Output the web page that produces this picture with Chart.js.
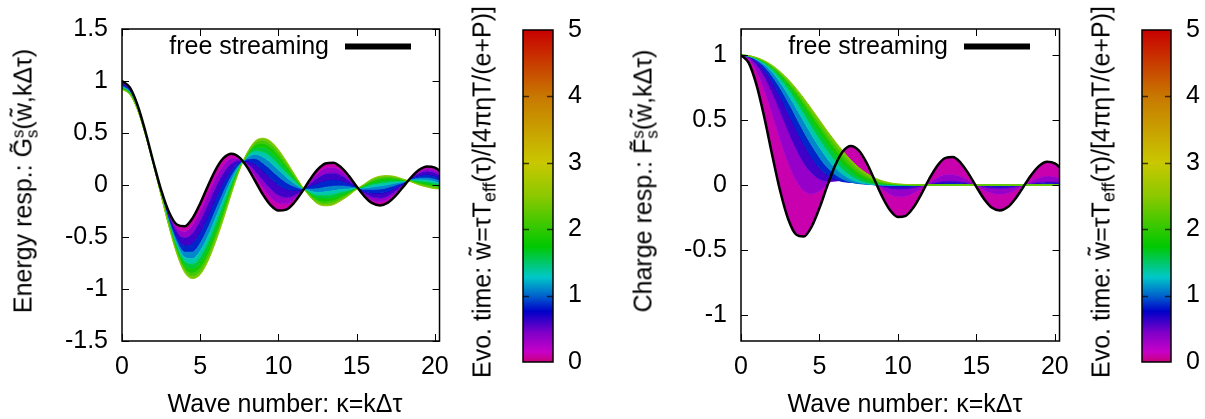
<!DOCTYPE html>
<html>
<head>
<meta charset="utf-8">
<script src="https://cdn.jsdelivr.net/npm/chart.js@4.4.1/dist/chart.umd.min.js"></script>
<style>
  html, body { margin: 0; padding: 0; background: #fff; }
  #wrap { position: relative; width: 1205px; height: 419px; overflow: hidden;
          font-family: "Liberation Sans", Arial, sans-serif; font-size: 25px; color: #000; }
  canvas { position: absolute; top: 0; }
  .lab { position: absolute; white-space: nowrap; line-height: 25px; }
  .rot { transform: translate(-50%, -50%) rotate(-90deg); }
  .hor { transform: translateX(-50%); }
  .ss { display: inline-block; font-size: 17px; line-height: 14px; vertical-align: -6px; }
  .sub { font-size: 18px; vertical-align: -5px; }
</style>
</head>
<body>
<div id="wrap">
  <canvas id="energyChart" width="460" height="419" style="left:0"></canvas>
  <canvas id="energyBar" width="160" height="419" style="left:460px"></canvas>
  <canvas id="chargeChart" width="460" height="419" style="left:620px"></canvas>
  <canvas id="chargeBar" width="125" height="419" style="left:1080px"></canvas>

  <div class="lab rot" style="left:24.5px; top:181px">Energy resp.: G&#x303;<span class="ss">s<br>s</span>(w&#x303;,kΔτ)</div>
  <div class="lab hor" style="left:285px; top:391px">Wave number: κ=kΔτ</div>
  <div class="lab rot" style="left:486px; top:192px">Evo. time: w&#x303;=τT<span class="sub">eff</span>(τ)/[4πηT/(e+P)]</div>

  <div class="lab rot" style="left:644.5px; top:181px">Charge resp.: F&#x303;<span class="ss">s<br>s</span>(w&#x303;,kΔτ)</div>
  <div class="lab hor" style="left:905px; top:391px">Wave number: κ=kΔτ</div>
  <div class="lab rot" style="left:1105px; top:192px">Evo. time: w&#x303;=τT<span class="sub">eff</span>(τ)/[4πηT/(e+P)]</div>
</div>

<script>
// wave number grid
const kappa = [0, 0.5, 1, 1.5, 2, 2.5, 3, 3.5, 4, 4.5, 5, 5.5, 6, 6.5, 7, 7.5, 8, 8.5, 9, 9.5,
  10, 10.5, 11, 11.5, 12, 12.5, 13, 13.5, 14, 14.5, 15, 15.5, 16, 16.5, 17, 17.5, 18, 18.5, 19, 19.5, 20, 20.5];

// free streaming (black curve, same in both panels)
const freeStreaming = [1.000, 0.938, 0.765, 0.512, 0.224, -0.048, -0.260, -0.380, -0.397, -0.321, -0.178, -0.007,
  0.151, 0.260, 0.300, 0.266, 0.172, 0.042, -0.090, -0.194, -0.246, -0.237, -0.171, -0.068, 0.048, 0.147, 0.207,
  0.215, 0.171, 0.088, -0.014, -0.109, -0.175, -0.196, -0.170, -0.103, -0.013, 0.077, 0.147, 0.179, 0.167, 0.115];

// evolution times of the coloured curves
const evoTimes = [0.25, 0.5, 0.75, 1.0, 1.25, 1.5, 1.75, 2.0, 2.25, 2.5];

// energy response
const energyW025 = [0.990, 0.930, 0.760, 0.508, 0.221, -0.054, -0.277, -0.414, -0.450, -0.390, -0.260, -0.094,
  0.068, 0.190, 0.254, 0.251, 0.189, 0.087, -0.025, -0.120, -0.176, -0.181, -0.137, -0.061, 0.029, 0.108, 0.158,
  0.166, 0.132, 0.065, -0.017, -0.095, -0.147, -0.162, -0.139, -0.081, -0.005, 0.071, 0.129, 0.155, 0.143, 0.096];
const energyW050 = [0.980, 0.921, 0.754, 0.504, 0.218, -0.061, -0.295, -0.450, -0.508, -0.466, -0.349, -0.188,
  -0.022, 0.115, 0.205, 0.234, 0.207, 0.137, 0.045, -0.040, -0.099, -0.120, -0.101, -0.053, 0.008, 0.065, 0.105,
  0.114, 0.091, 0.041, -0.021, -0.079, -0.116, -0.126, -0.105, -0.057, 0.004, 0.065, 0.110, 0.129, 0.116, 0.076];
const energyW075 = [0.966, 0.909, 0.746, 0.499, 0.214, -0.070, -0.319, -0.498, -0.583, -0.564, -0.464, -0.311,
  -0.139, 0.016, 0.140, 0.213, 0.230, 0.201, 0.137, 0.064, 0.000, -0.041, -0.053, -0.044, -0.018, 0.010, 0.036,
  0.045, 0.036, 0.009, -0.025, -0.059, -0.076, -0.078, -0.061, -0.026, 0.016, 0.057, 0.085, 0.095, 0.082, 0.050];
const energyW100 = [0.955, 0.900, 0.740, 0.494, 0.211, -0.077, -0.338, -0.537, -0.645, -0.645, -0.560, -0.412,
  -0.236, -0.065, 0.087, 0.195, 0.249, 0.254, 0.212, 0.150, 0.082, 0.025, -0.014, -0.036, -0.040, -0.036, -0.021,
  -0.012, -0.009, -0.017, -0.029, -0.042, -0.043, -0.039, -0.024, -0.001, 0.025, 0.051, 0.065, 0.068, 0.054, 0.028];
const energyW125 = [0.946, 0.892, 0.735, 0.491, 0.208, -0.083, -0.354, -0.568, -0.694, -0.709, -0.635, -0.491,
  -0.312, -0.129, 0.045, 0.182, 0.264, 0.295, 0.272, 0.217, 0.147, 0.076, 0.017, -0.029, -0.058, -0.072, -0.066,
  -0.056, -0.044, -0.038, -0.031, -0.029, -0.018, -0.008, 0.004, 0.020, 0.033, 0.046, 0.049, 0.046, 0.032, 0.011];
const energyW150 = [0.939, 0.886, 0.731, 0.488, 0.206, -0.088, -0.366, -0.593, -0.734, -0.761, -0.696, -0.556,
  -0.374, -0.181, 0.011, 0.170, 0.277, 0.329, 0.320, 0.273, 0.199, 0.118, 0.043, -0.024, -0.072, -0.102, -0.102,
  -0.093, -0.073, -0.055, -0.034, -0.019, 0.004, 0.018, 0.028, 0.036, 0.039, 0.041, 0.035, 0.028, 0.013, -0.003];
const energyW175 = [0.933, 0.881, 0.727, 0.485, 0.204, -0.092, -0.378, -0.615, -0.769, -0.807, -0.751, -0.614,
  -0.429, -0.227, -0.019, 0.160, 0.288, 0.360, 0.364, 0.322, 0.246, 0.155, 0.065, -0.019, -0.085, -0.128, -0.135,
  -0.125, -0.099, -0.070, -0.036, -0.009, 0.022, 0.040, 0.048, 0.051, 0.044, 0.038, 0.024, 0.012, -0.003, -0.015];
const energyW200 = [0.927, 0.876, 0.724, 0.483, 0.202, -0.095, -0.387, -0.635, -0.800, -0.848, -0.799, -0.665,
  -0.478, -0.268, -0.046, 0.151, 0.298, 0.386, 0.401, 0.365, 0.287, 0.188, 0.085, -0.015, -0.096, -0.151, -0.163,
  -0.154, -0.121, -0.083, -0.038, -0.001, 0.039, 0.060, 0.067, 0.064, 0.049, 0.034, 0.013, -0.002, -0.017, -0.026];
const energyW225 = [0.923, 0.873, 0.722, 0.481, 0.201, -0.098, -0.394, -0.649, -0.822, -0.877, -0.833, -0.701,
  -0.512, -0.297, -0.065, 0.145, 0.304, 0.405, 0.428, 0.395, 0.317, 0.211, 0.099, -0.012, -0.104, -0.167, -0.184,
  -0.174, -0.137, -0.092, -0.039, 0.005, 0.051, 0.074, 0.080, 0.073, 0.052, 0.032, 0.006, -0.012, -0.027, -0.034];
const energyW250 = [0.920, 0.870, 0.720, 0.480, 0.200, -0.100, -0.400, -0.660, -0.840, -0.900, -0.860, -0.730,
  -0.540, -0.320, -0.080, 0.140, 0.310, 0.420, 0.450, 0.420, 0.340, 0.230, 0.110, -0.010, -0.110, -0.180, -0.200,
  -0.190, -0.150, -0.100, -0.040, 0.010, 0.060, 0.085, 0.090, 0.080, 0.055, 0.030, 0.000, -0.020, -0.035, -0.040];

// charge response
const chargeW025 = [1.000, 0.966, 0.872, 0.722, 0.539, 0.347, 0.171, 0.037, -0.045, -0.069, -0.047, 0.002,
  0.057, 0.096, 0.110, 0.098, 0.063, 0.015, -0.033, -0.071, -0.091, -0.087, -0.063, -0.025, 0.018, 0.054, 0.076,
  0.079, 0.063, 0.032, -0.005, -0.040, -0.064, -0.072, -0.063, -0.038, -0.005, 0.028, 0.054, 0.066, 0.061, 0.042];
const chargeW050 = [1.000, 0.980, 0.921, 0.828, 0.703, 0.561, 0.414, 0.280, 0.168, 0.090, 0.045, 0.028,
  0.030, 0.038, 0.041, 0.036, 0.023, 0.006, -0.012, -0.026, -0.033, -0.032, -0.023, -0.009, 0.006, 0.020, 0.028,
  0.029, 0.023, 0.012, -0.002, -0.015, -0.024, -0.026, -0.023, -0.014, -0.002, 0.010, 0.020, 0.024, 0.023, 0.016];
const chargeW075 = [1.000, 0.986, 0.946, 0.880, 0.788, 0.676, 0.552, 0.427, 0.311, 0.210, 0.130, 0.076,
  0.044, 0.026, 0.020, 0.015, 0.009, 0.002, -0.005, -0.010, -0.012, -0.012, -0.009, -0.003, 0.002, 0.007, 0.010,
  0.011, 0.009, 0.004, -0.001, -0.005, -0.009, -0.010, -0.009, -0.005, -0.001, 0.004, 0.007, 0.009, 0.008, 0.006];
const chargeW100 = [1.000, 0.988, 0.959, 0.909, 0.835, 0.744, 0.638, 0.524, 0.410, 0.305, 0.212, 0.135,
  0.081, 0.044, 0.022, 0.011, 0.005, 0.002, -0.002, -0.003, -0.004, -0.004, -0.003, -0.001, 0.001, 0.003, 0.004,
  0.004, 0.003, 0.002, 0.000, -0.002, -0.003, -0.004, -0.003, -0.002, 0.000, 0.001, 0.003, 0.003, 0.003, 0.002];
const chargeW125 = [1.000, 0.991, 0.965, 0.925, 0.867, 0.788, 0.696, 0.595, 0.490, 0.386, 0.290, 0.203,
  0.132, 0.080, 0.044, 0.021, 0.009, 0.003, 0.001, -0.001, -0.002, -0.002, -0.001, 0.000, 0.000, 0.001, 0.001,
  0.002, 0.001, 0.001, 0.000, -0.001, -0.001, -0.001, -0.001, -0.001, 0.000, 0.001, 0.001, 0.001, 0.001, 0.001];
const chargeW150 = [1.000, 0.992, 0.971, 0.936, 0.885, 0.818, 0.738, 0.646, 0.548, 0.448, 0.353, 0.265,
  0.186, 0.122, 0.075, 0.041, 0.020, 0.008, 0.003, 0.001, 0, 0, 0, 0, 0, 0, 0,
  0, 0, 0, 0, 0, 0, 0, 0, 0, 0, 0, 0, 0, 0, 0];
const chargeW175 = [1.000, 0.993, 0.974, 0.943, 0.899, 0.839, 0.768, 0.685, 0.594, 0.500, 0.406, 0.318,
  0.237, 0.167, 0.110, 0.067, 0.037, 0.019, 0.008, 0.004, 0.002, 0.001, 0, 0, 0, 0, 0,
  0, 0, 0, 0, 0, 0, 0, 0, 0, 0, 0, 0, 0, 0, 0];
const chargeW200 = [1.000, 0.994, 0.977, 0.948, 0.908, 0.853, 0.787, 0.710, 0.626, 0.536, 0.446, 0.359,
  0.277, 0.203, 0.141, 0.092, 0.055, 0.031, 0.016, 0.007, 0.003, 0.002, 0.001, 0, 0, 0, 0,
  0, 0, 0, 0, 0, 0, 0, 0, 0, 0, 0, 0, 0, 0, 0];
const chargeW225 = [1.000, 0.995, 0.978, 0.952, 0.914, 0.863, 0.800, 0.728, 0.647, 0.561, 0.474, 0.388,
  0.307, 0.233, 0.167, 0.114, 0.073, 0.043, 0.024, 0.012, 0.006, 0.003, 0.001, 0.001, 0, 0, 0,
  0, 0, 0, 0, 0, 0, 0, 0, 0, 0, 0, 0, 0, 0, 0];
const chargeW250 = [1.000, 0.995, 0.980, 0.955, 0.920, 0.872, 0.813, 0.745, 0.668, 0.585, 0.500, 0.415,
  0.335, 0.260, 0.192, 0.135, 0.090, 0.056, 0.032, 0.017, 0.008, 0.004, 0.002, 0.001, 0, 0, 0,
  0, 0, 0, 0, 0, 0, 0, 0, 0, 0, 0, 0, 0, 0, 0];

// tick labels
const kappaTicks = [0, 5, 10, 15, 20];
const energyTicks = [-1.5, -1, -0.5, 0, 0.5, 1, 1.5];
const chargeTicks = [-1, -0.5, 0, 0.5, 1];
const evoTicks = [0, 1, 2, 3, 4, 5];

const energySeries = [energyW025, energyW050, energyW075, energyW100, energyW125,
  energyW150, energyW175, energyW200, energyW225, energyW250];
const chargeSeries = [chargeW025, chargeW050, chargeW075, chargeW100, chargeW125,
  chargeW150, chargeW175, chargeW200, chargeW225, chargeW250];

Chart.defaults.font.family = '"Liberation Sans", Arial, sans-serif';
Chart.defaults.font.size = 25;
Chart.defaults.color = '#000';

// colour palette of the colour box (value -> rgb)
const paletteStops = [
  [0.0, [200, 0, 120]], [0.15, [200, 0, 200]], [0.45, [125, 0, 200]], [0.76, [0, 0, 200]],
  [1.0, [0, 100, 205]], [1.28, [0, 200, 200]], [1.74, [0, 200, 0]], [2.5, [140, 200, 0]],
  [3.0, [200, 200, 0]], [4.0, [200, 120, 0]], [5.0, [200, 0, 0]],
];

function palette(v) {
  v = Math.max(0, Math.min(5, v));
  for (let i = 1; i < paletteStops.length; i++) {
    const [v1, c1] = paletteStops[i];
    const [v0, c0] = paletteStops[i - 1];
    if (v <= v1) {
      const t = (v - v0) / (v1 - v0);
      const c = c0.map((x, j) => Math.round(x + t * (c1[j] - x)));
      return `rgb(${c[0]},${c[1]},${c[2]})`;
    }
  }
  return 'rgb(200,0,0)';
}

function curve(values) {
  return kappa.map((k, i) => ({ x: k, y: values[i] }));
}

function buildDatasets(series) {
  const sets = [{
    data: curve(freeStreaming), borderColor: '#000', borderWidth: 2.5, fill: false, order: 0,
  }];
  series.forEach((vals, i) => {
    const w = evoTimes[i];
    sets.push({
      data: curve(vals),
      borderColor: palette(w),
      borderWidth: 1,
      backgroundColor: palette(w - 0.15),
      fill: '-1',
      order: series.length - i,
    });
  });
  return sets;
}

const plainLabel = (v) => String(v);

// border box, inward ticks and key
const framePlugin = {
  id: 'frame',
  afterDraw(chart) {
    const { ctx, chartArea: a, scales: { x, y } } = chart;
    ctx.save();
    ctx.strokeStyle = '#000';
    ctx.lineWidth = 1;
    ctx.beginPath();
    kappaTicks.forEach((v) => {
      const px = Math.round(x.getPixelForValue(v)) + 0.5;
      ctx.moveTo(px, a.bottom); ctx.lineTo(px, a.bottom - 7);
      ctx.moveTo(px, a.top); ctx.lineTo(px, a.top + 7);
    });
    y.ticks.forEach((t) => {
      const py = Math.round(y.getPixelForValue(t.value)) + 0.5;
      ctx.moveTo(a.left, py); ctx.lineTo(a.left + 7, py);
      ctx.moveTo(a.right, py); ctx.lineTo(a.right - 7, py);
    });
    ctx.stroke();
    ctx.lineWidth = 1.5;
    ctx.strokeRect(a.left, a.top, a.right - a.left, a.bottom - a.top);

    // key
    ctx.fillStyle = '#000';
    ctx.font = '25px "Liberation Sans", Arial, sans-serif';
    ctx.textAlign = 'right';
    ctx.textBaseline = 'alphabetic';
    ctx.fillText('free streaming', a.left + 207, a.top + 25);
    ctx.lineWidth = 6;
    ctx.beginPath();
    ctx.moveTo(a.left + 223, a.top + 17.5);
    ctx.lineTo(a.left + 289, a.top + 17.5);
    ctx.stroke();
    ctx.restore();
  },
};

const colorbarPlugin = {
  id: 'colorbar',
  beforeDraw(chart) {
    const { ctx, chartArea: a, scales: { y } } = chart;
    ctx.save();
    const g = ctx.createLinearGradient(0, y.getPixelForValue(0), 0, y.getPixelForValue(5));
    paletteStops.forEach(([v]) => g.addColorStop(v / 5, palette(v)));
    ctx.fillStyle = g;
    ctx.fillRect(a.left, a.top, a.right - a.left, a.bottom - a.top);
    ctx.strokeStyle = 'rgba(0,0,0,0.7)';
    ctx.lineWidth = 1.5;
    ctx.beginPath();
    evoTicks.slice(1, -1).forEach((v) => {
      const py = Math.round(y.getPixelForValue(v)) + 0.5;
      ctx.moveTo(a.left, py); ctx.lineTo(a.left + 6, py);
      ctx.moveTo(a.right, py); ctx.lineTo(a.right - 6, py);
    });
    ctx.stroke();
    ctx.strokeStyle = '#000';
    ctx.lineWidth = 1.5;
    ctx.strokeRect(a.left, a.top, a.right - a.left, a.bottom - a.top);
    ctx.restore();
  },
};

function makePanel(id, series, yMin, yMax, yTicks, yWidth, padRight) {
  return new Chart(document.getElementById(id), {
    type: 'line',
    data: { datasets: buildDatasets(series) },
    options: {
      responsive: false,
      animation: false,
      events: [],
      devicePixelRatio: 1,
      layout: { padding: { left: 0, right: padRight, top: 22, bottom: 0 } },
      elements: {
        point: { radius: 0 },
        line: { cubicInterpolationMode: 'monotone' },
      },
      plugins: { legend: { display: false }, tooltip: { enabled: false } },
      scales: {
        x: {
          type: 'linear', min: 0, max: 20.3,
          grid: { display: false, drawTicks: false }, border: { display: false },
          afterBuildTicks: (s) => { s.ticks = kappaTicks.map((v) => ({ value: v })); },
          afterFit: (s) => { s.height = 78; },
          ticks: { padding: 11, maxRotation: 0, autoSkip: false, callback: plainLabel },
        },
        y: {
          type: 'linear', min: yMin, max: yMax,
          grid: { display: false, drawTicks: false }, border: { display: false },
          afterBuildTicks: (s) => { s.ticks = yTicks.map((v) => ({ value: v })); },
          afterFit: (s) => { s.width = yWidth; },
          ticks: { padding: 14, autoSkip: false, callback: plainLabel },
        },
      },
    },
    plugins: [framePlugin],
  });
}

function makeColorbar(id, padLeft, axisWidth) {
  return new Chart(document.getElementById(id), {
    type: 'scatter',
    data: { datasets: [] },
    options: {
      responsive: false,
      animation: false,
      events: [],
      devicePixelRatio: 1,
      layout: { padding: { left: padLeft, right: 0, top: 22, bottom: 57 } },
      plugins: { legend: { display: false }, tooltip: { enabled: false } },
      scales: {
        x: { display: false, min: 0, max: 1 },
        y: {
          position: 'right', min: 0, max: 5,
          grid: { display: false, drawTicks: false }, border: { display: false },
          afterBuildTicks: (s) => { s.ticks = evoTicks.map((v) => ({ value: v })); },
          afterFit: (s) => { s.width = axisWidth; },
          ticks: { padding: 15, autoSkip: false, callback: plainLabel },
        },
      },
    },
    plugins: [colorbarPlugin],
  });
}

makePanel('energyChart', energySeries, -1.5, 1.5, energyTicks, 122, 18);
makeColorbar('energyBar', 63, 67);
makePanel('chargeChart', chargeSeries, -1.2, 1.2, chargeTicks, 121, 19);
makeColorbar('chargeBar', 62, 34);
</script>
</body>
</html>
